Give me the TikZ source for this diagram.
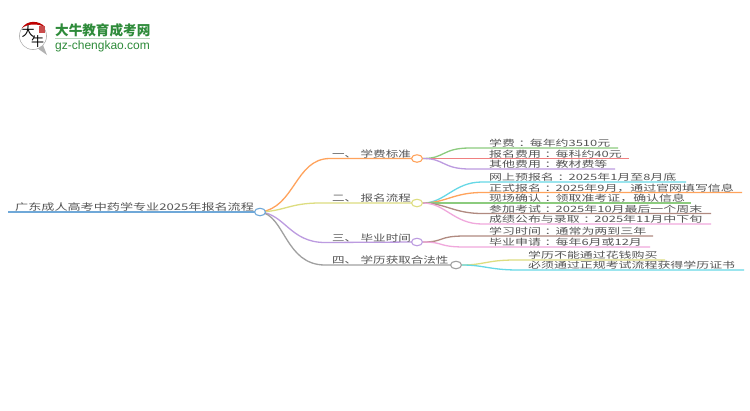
\documentclass[tikz,border=0pt]{standalone}
\usepackage{fontspec}
\usepackage{graphicx}
\usetikzlibrary{shapes.geometric}
\setmainfont{Noto Sans CJK SC}
\newfontfamily\logolatin{Liberation Sans}
\definecolor{cOrange}{HTML}{FFA35C}
\definecolor{cYellow}{HTML}{DDDD80}
\definecolor{cPurple}{HTML}{BC9BE0}
\definecolor{cGray}{HTML}{A0A0A0}
\definecolor{cBlue}{HTML}{6FA8D8}
\definecolor{cGreen}{HTML}{8CCB7E}
\definecolor{cRed}{HTML}{F08080}
\definecolor{cCyan}{HTML}{66D8E6}
\definecolor{cBrown}{HTML}{B08A80}
\definecolor{cPink}{HTML}{F0A8DC}
\definecolor{cText}{HTML}{555555}
\definecolor{cLogo}{HTML}{2E8B3A}
\tikzset{
  x=1pt,y=-1pt,
  txt/.style={inner sep=0pt,anchor=base west,text=cText,font=\fontsize{10.6pt}{11pt}\selectfont},
  ttl/.style={txt,font=\fontsize{11pt}{12pt}\selectfont},
  ell/.style={ellipse,draw=#1,fill=white,line width=1.1pt,minimum width=11pt,minimum height=7.5pt,inner sep=0pt},
  wire/.style={draw=#1,line width=1.3pt},
}
\newcommand{\cn}{\hspace{3pt}：\hspace{-1.5pt}}
\newcommand{\wide}[1]{\scalebox{1.22}[0.82]{#1}}
\newcommand{\wider}[1]{\scalebox{1.17}[0.82]{#1}}
\newcommand{\widb}[1]{\scalebox{1.14}[0.82]{#1}}
% \leafline{name}{hub}{text x}{flat x}{end x}{y}{colour}{text}
\newcommand{\leafline}[8]{%
  \coordinate (#1M) at (#4,#6);
  \coordinate (#1E) at (#5,#6);
  \draw[wire=#7] (#2.east) .. controls ([xshift=22pt]#2.east) and ([xshift=-28pt]#1M) .. (#1M) -- (#1E);
  \node[txt] (#1T) at (#3,#6-1.5) {\wide{#8}};
}
\begin{document}
\begin{tikzpicture}
\useasboundingbox (0,0) rectangle (750,410);
\fill[white] (0,0) rectangle (750,410);
% logo
\fill[white,draw=black!30,line width=.7pt] (33,36) circle (13.5);
\fill[black!30] (37,48) -- (47,55) -- (43,45) -- cycle;
\fill[white] (33,36) circle (13);
\fill[red!75!black] (22,28) .. controls (27,20) and (39,20) .. (45,27) .. controls (38,23.5) and (28,23.5) .. (22,28) -- cycle;
\fill[red!70!black!70] (39,26) rectangle (45,33);
\node[inner sep=0pt,font=\fontsize{13pt}{13pt}\selectfont,text=black] (logoa) at (28,32) {大};
\node[inner sep=0pt,font=\fontsize{13pt}{13pt}\selectfont,text=black] (logob) at (37.5,42) {牛};
\node[inner sep=0pt,anchor=base west,font=\fontsize{13.6pt}{14pt}\selectfont\bfseries,text=cLogo] (logot) at (55,35.5) {大牛教育成考网};
\draw[cLogo!35,line width=.7pt] (55,38.5) -- (150,38.5);
\node[inner sep=0pt,anchor=base west,font=\logolatin\fontsize{12pt}{13pt}\selectfont,text=cLogo] (logou) at (55,49) {gz-chengkao.com};
% positions
\coordinate (rootL) at (8,212);
\coordinate (b1L) at (330,158.5);
\coordinate (b2L) at (320,203);
\coordinate (b3L) at (325,242.5);
\coordinate (b4L) at (325,265);
\coordinate (rootP) at (260,212);
\coordinate (b1P) at (417,158.5);
\coordinate (b2P) at (417,203);
\coordinate (b3P) at (417,242);
\coordinate (b4P) at (456,265);
% trunk
\draw[wire=cBlue] (rootL) -- (rootP);
\draw[wire=cOrange] (rootP) .. controls (295,208) and (295,158.5) .. (b1L) -- (b1P);
\draw[wire=cYellow] (rootP) .. controls (285,211) and (290,203) .. (b2L) -- (b2P);
\draw[wire=cPurple] (rootP) .. controls (285,214) and (290,242.5) .. (b3L) -- (b3P);
\draw[wire=cGray] (rootP) .. controls (285,215) and (285,265) .. (b4L) -- (b4P);
\node[ell=cBlue] (root) at (rootP) {};
\node[ell=cOrange] (b1) at (b1P) {};
\node[ell=cYellow] (b2) at (b2P) {};
\node[ell=cPurple] (b3) at (b3P) {};
\node[ell=cGray] (b4) at (b4P) {};
\node[txt,font=\fontsize{11.2pt}{12pt}\selectfont] (rootT) at (15,210.5) {\wider{广东成人高考中药学专业2025年报名流程}};
\node[ttl] (b1T) at (332,157) {\widb{一、\hspace{3pt}学费标准}};
\node[ttl] (b2T) at (332,201.5) {\widb{二、\hspace{3pt}报名流程}};
\node[ttl] (b3T) at (332,241) {\widb{三、\hspace{3pt}毕业时间}};
\node[ttl] (b4T) at (332,263.5) {\widb{四、\hspace{3pt}学历获取合法性}};
% leaves
\leafline{a}{b1}{489}{470}{618}{148}{cGreen}{学费\cn 每年约3510元}
\leafline{b}{b1}{489}{470}{629}{158.5}{cRed}{报名费用\cn 每科约40元}
\leafline{c}{b1}{489}{470}{615}{169}{cPurple}{其他费用\cn 教材费等}
\leafline{d}{b2}{489}{482}{686}{182}{cCyan}{网上预报名\cn 2025年1月至8月底}
\leafline{e}{b2}{489}{482}{742}{192.5}{cOrange}{正式报名\cn 2025年9月，通过官网填写信息}
\leafline{f}{b2}{489}{482}{691}{203}{cGreen}{现场确认\cn 领取准考证，确认信息}
\leafline{g}{b2}{489}{482}{711}{213.5}{cBrown}{参加考试\cn 2025年10月最后一个周末}
\leafline{h}{b2}{489}{482}{711}{224}{cPink}{成绩公布与录取\cn 2025年11月中下旬}
\leafline{i}{b3}{489}{465}{653}{236}{cBrown}{学习时间\cn 通常为两到三年}
\leafline{j}{b3}{489}{465}{650}{247}{cPink}{毕业申请\cn 每年6月或12月}
\leafline{k}{b4}{528}{515}{665}{260}{cYellow}{学历不能通过花钱购买}
\leafline{l}{b4}{528}{518}{744}{270}{cCyan}{必须通过正规考试流程获得学历证书}
\end{tikzpicture}
\end{document}
